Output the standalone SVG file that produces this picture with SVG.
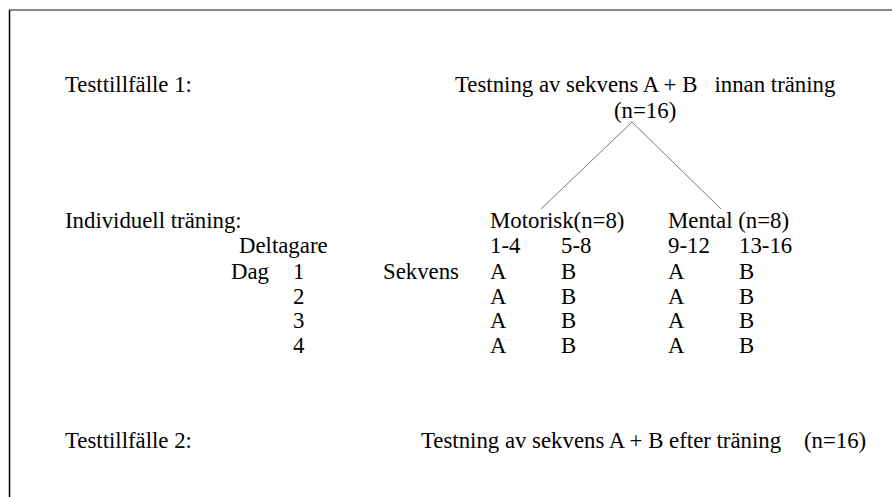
<svg xmlns="http://www.w3.org/2000/svg" width="892" height="497" viewBox="0 0 892 497">
<style>
text{font-family:"Liberation Serif","Times New Roman",serif;font-size:22.8px;fill:#000}
.frame{stroke:#000;stroke-width:1.5;fill:none}
.top{stroke:#888;stroke-width:2;fill:none}
.conn{stroke:#555;stroke-width:0.8;fill:none}
</style>
<rect width="892" height="497" fill="#fff"/>
<line class="top" x1="9" y1="10" x2="892" y2="10"/>
<line class="frame" x1="9.5" y1="10" x2="9.5" y2="497"/>
<g id="test1">
<text x="65" y="92">Testtillfälle 1:</text>
<text x="455" y="92" xml:space="preserve">Testning av sekvens A + B   innan träning</text>
<text x="614" y="118">(n=16)</text>
</g>
<g id="connectors">
<line class="conn" x1="632" y1="122" x2="541" y2="209"/>
<line class="conn" x1="632" y1="122" x2="721" y2="209"/>
</g>
<g id="training">
<text x="65" y="228">Individuell träning:</text>
<text x="490" y="228">Motorisk(n=8)</text>
<text x="668" y="228">Mental (n=8)</text>
<text x="239" y="253">Deltagare</text>
<text x="490" y="253">1-4</text>
<text x="561" y="253">5-8</text>
<text x="668" y="253">9-12</text>
<text x="739" y="253">13-16</text>
<text x="231" y="279">Dag</text>
<text x="293" y="279">1</text>
<text x="383" y="279">Sekvens</text>
<text x="490" y="279">A</text><text x="561" y="279">B</text><text x="668" y="279">A</text><text x="739" y="279">B</text>
<text x="293" y="304">2</text>
<text x="490" y="304">A</text><text x="561" y="304">B</text><text x="668" y="304">A</text><text x="739" y="304">B</text>
<text x="293" y="328">3</text>
<text x="490" y="328">A</text><text x="561" y="328">B</text><text x="668" y="328">A</text><text x="739" y="328">B</text>
<text x="293" y="353">4</text>
<text x="490" y="353">A</text><text x="561" y="353">B</text><text x="668" y="353">A</text><text x="739" y="353">B</text>
</g>
<g id="test2">
<text x="65" y="448">Testtillfälle 2:</text>
<text x="421" y="448" xml:space="preserve">Testning av sekvens A + B efter träning    (n=16)</text>
</g>
</svg>
